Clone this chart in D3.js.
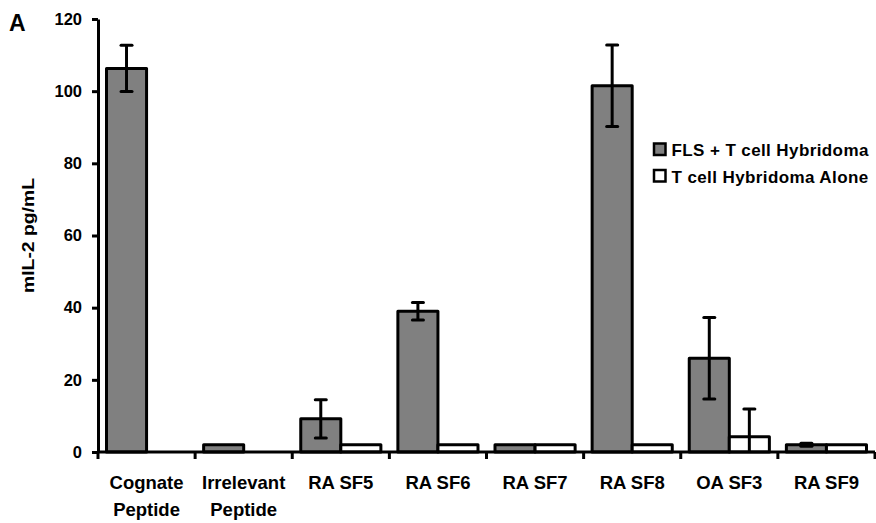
<!DOCTYPE html>
<html><head><meta charset="utf-8">
<script src="https://cdn.jsdelivr.net/npm/d3@7"></script>
<style>body{margin:0;background:#fff;} text{font-family:"Liberation Sans",Arial,sans-serif;font-weight:bold;fill:#000;}</style>
</head><body>
<svg id="c" width="876" height="523"></svg>
<script>
const categories = [["Cognate","Peptide"],["Irrelevant","Peptide"],["RA SF5"],["RA SF6"],["RA SF7"],["RA SF8"],["OA SF3"],["RA SF9"]];
const seriesNames = ["FLS + T cell Hybridoma","T cell Hybridoma Alone"];
const flsValues = [106.3, 2, 9.2, 39, 2, 101.5, 26, 2];
const flsErrors = [6.4, 0, 5.3, 2.4, 0, 11.3, 11.3, 0.4];
const aloneValues = [null, null, 2, 2, 2, 2, 4.2, 2];
const aloneErrors = [0, 0, 0, 0, 0, 0, 7.7, 0];
const yTicks = [0,20,40,60,80,100,120];

const svg = d3.select("#c");
const L=98, R=875, T=19, B=452;
const y = d3.scaleLinear().domain([0,120]).range([B,T]);
const x0 = d3.scaleBand().domain(d3.range(categories.length)).range([L,R]).padding(0);
const x1 = d3.scaleBand().domain([0,1]).range([8.5, x0.bandwidth()-8.5]).padding(0);
const fills = ["#808080","#ffffff"];

// bars
const data = [];
categories.forEach((c,i)=>{
  [[flsValues,flsErrors],[aloneValues,aloneErrors]].forEach((s,j)=>{
    if(s[0][i]!=null) data.push({i,j,v:s[0][i],e:s[1][i]});
  });
});
svg.selectAll("rect.bar").data(data).enter().append("rect")
  .attr("x",d=>x0(d.i)+x1(d.j)).attr("width",x1.bandwidth())
  .attr("y",d=>y(d.v)).attr("height",d=>y(0)-y(d.v))
  .attr("fill",d=>fills[d.j]).attr("stroke","#000").attr("stroke-width",3)
  .attr("stroke-linejoin","round");

// error bars
const eb = data.filter(d=>d.e>0);
const g = svg.append("g").attr("stroke","#000").attr("stroke-width",3);
eb.forEach(d=>{
  const cx = x0(d.i)+x1(d.j)+x1.bandwidth()/2;
  const lo = Math.max(0,d.v-d.e), hi=d.v+d.e;
  g.append("line").attr("x1",cx).attr("x2",cx).attr("y1",y(hi)).attr("y2",y(lo));
  g.append("line").attr("x1",cx-5.5).attr("x2",cx+5.5).attr("y1",y(hi)).attr("y2",y(hi)).attr("stroke-linecap","round");
  if(d.v-d.e>0) g.append("line").attr("x1",cx-5.5).attr("x2",cx+5.5).attr("y1",y(lo)).attr("y2",y(lo)).attr("stroke-linecap","round");
});

// y axis
const ya = svg.append("g").attr("transform",`translate(${L},0)`)
  .call(d3.axisLeft(y).tickValues(yTicks).tickSize(6).tickPadding(10).tickSizeOuter(0));
ya.select(".domain").attr("stroke-width",3);
ya.selectAll(".tick line").attr("stroke-width",3);
ya.selectAll("text").attr("font-size",null).attr("font-family",null)
  .style("font-size","16.5px").style("font-family","Liberation Sans, Arial").style("font-weight","bold");

// x axis
const xa = svg.append("g").attr("transform",`translate(0,${B})`);
xa.append("line").attr("x1",L).attr("x2",R).attr("y1",0).attr("y2",0).attr("stroke","#000").attr("stroke-width",3);
d3.range(categories.length+1).forEach(k=>{
  const xx = L + k*x0.step();
  xa.append("line").attr("x1",xx).attr("x2",xx).attr("y1",0).attr("y2",7).attr("stroke","#000").attr("stroke-width",3);
});
categories.forEach((c,i)=>{
  const t = xa.append("text").attr("x",x0(i)+x0.bandwidth()/2).attr("text-anchor","middle")
    .style("font-size","18.5px");
  c.forEach((line,k)=>t.append("tspan").attr("x",x0(i)+x0.bandwidth()/2).attr("y",36.5+k*27.5).text(line));
});

// y label
svg.append("text").attr("transform","translate(34,235.5) rotate(-90)").attr("text-anchor","middle")
  .attr("textLength",115).attr("lengthAdjust","spacingAndGlyphs")
  .style("font-size","16px").text("mIL-2 pg/mL");
// panel letter
svg.append("text").attr("x",9).attr("y",31).style("font-size","23px").text("A");

// legend
seriesNames.forEach((n,j)=>{
  const ly = 143.5 + j*26.5;
  svg.append("rect").attr("x",654).attr("y",ly).attr("width",11.5).attr("height",11.5)
    .attr("fill",fills[j]).attr("stroke","#000").attr("stroke-width",2.5);
  svg.append("text").attr("x",671.5).attr("y",ly+12.5).style("font-size","17px").style("letter-spacing","0.4px").text(n);
});
</script>
</body></html>
